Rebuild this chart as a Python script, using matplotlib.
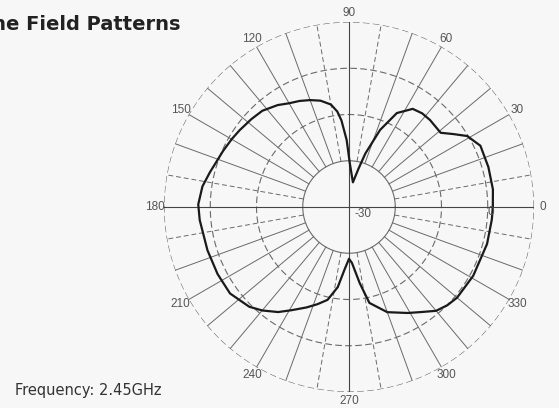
import numpy as np
import matplotlib.pyplot as plt

# 方向图数据（角度 / dB）
angles_deg = [0, 7, 16, 25, 31, 35, 39, 47, 52, 57, 63, 68, 73, 76, 81, 89, 92, 95,
              97, 100, 105, 110, 115, 120, 125, 132, 138, 145, 150, 156, 166, 172,
              179, 185, 197, 207, 216, 225, 230, 236, 241, 247, 252, 257, 262, 266,
              270, 273, 278, 282, 290, 299, 305, 310, 315, 320, 331, 345, 355, 360]
gain_db = [1.1, 1.35, 1.35, 1.35, -0.2, -2.5, -4.5, -4.3, -4.3, -4.7, -7.2, -12.0,
           -17.9, -21.4, -24.6, -20.5, -15.5, -11.2, -9.2, -7.5, -6.2, -5.4, -4.7,
           -4.1, -3.1, -2.0, -1.6, -1.1, -0.7, -0.2, 1.0, 2.0, 2.6, 2.4, 2.0, 1.9,
           1.8, 0.5, -0.8, -2.6, -4.5, -6.4, -7.9, -9.4, -12.5, -16.5, -18.8, -17.9,
           -13.4, -8.8, -5.8, -3.8, -2.3, -0.7, 0.05, 0.5, 0.7, 0.9, 1.0, 1.1]

ring_levels = [-20, -10, 0, 10]
angle_ticks = list(range(0, 360, 30))
title = "H-Plane Field Patterns"
freq_text = "Frequency: 2.45GHz"

grid_col = '#6a6a6a'
txt_col = '#555555'

fig = plt.figure(figsize=(5.59, 4.08), dpi=100)
fig.patch.set_facecolor('#f7f7f7')
ax = fig.add_axes([164 / 559, 16 / 408, 370 / 559, 370 / 408], projection='polar')
ax.set_facecolor('none')
ax.set_ylim(-30, 10)
ax.grid(False)
ax.set_xticks([])
ax.set_yticks([])
ax.spines['polar'].set_visible(False)

# 同心圆
th = np.linspace(0, 2 * np.pi, 400)
for lv in ring_levels:
    ls = '-' if lv == -20 else (0, (6, 3))
    ax.plot(th, np.full_like(th, lv), color=grid_col, lw=0.8, ls=ls)

# 径向线，每 10 度一条
dashed = [10, 80, 100, 170, 190, 260, 280, 350]
for a in range(0, 360, 10):
    if a % 90 == 0:
        continue
    ls = (0, (5, 3)) if a in dashed else '-'
    ax.plot([np.deg2rad(a)] * 2, [-20, 10], color=grid_col, lw=0.7, ls=ls)

# 过圆心的十字轴
for a in [0, 90]:
    t = np.deg2rad(a)
    ax.plot([t, t], [-30, 10], color='#444444', lw=0.8)
    ax.plot([t + np.pi, t + np.pi], [-30, 10], color='#444444', lw=0.8)

# 角度标注
for a in angle_ticks:
    ax.text(np.deg2rad(a), 12.0, str(a), ha='center', va='center',
            fontsize=8.5, color=txt_col, family='Liberation Sans')

ax.text(np.deg2rad(-27), -26.6, "-30", ha='center', va='center',
        fontsize=8.5, color=txt_col, family='Liberation Sans')
ax.text(np.deg2rad(-2), 0.6, "0", ha='center', va='center',
        fontsize=8.5, color=txt_col, family='Liberation Sans')

# 方向图曲线
ax.plot(np.deg2rad(angles_deg), gain_db, color='#1a1a1a', lw=1.6)

fig.text(181 / 559, 1 - 25 / 408, title, ha='right', va='center',
         fontsize=14, fontweight='bold', color='#222222', family='DejaVu Sans')
fig.text(15 / 559, 1 - 390 / 408, freq_text, ha='left', va='center',
         fontsize=10.5, color='#333333', family='DejaVu Sans')

fig.savefig('out.png', dpi=100, facecolor=fig.get_facecolor())
